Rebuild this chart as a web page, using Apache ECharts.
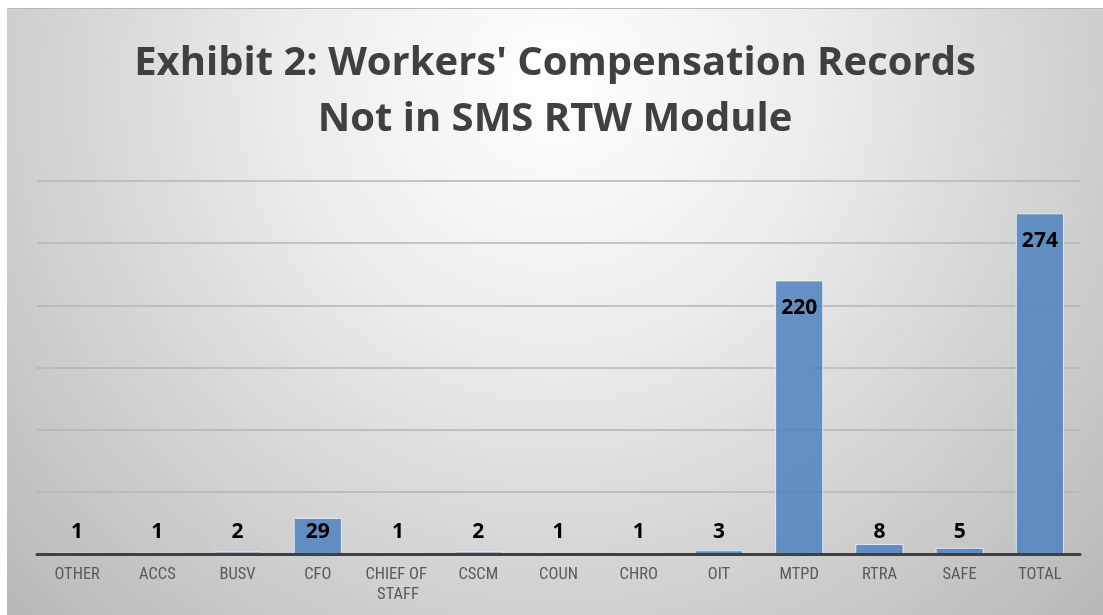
<!DOCTYPE html>
<html>
<head>
<meta charset="utf-8">
<script src="https://cdn.jsdelivr.net/npm/echarts@6/dist/echarts.min.js"></script>
<style>
  html, body { margin: 0; padding: 0; background: #ffffff; width: 1103px; height: 615px; overflow: hidden; }
  #chart { position: absolute; left: 7px; top: 8px; width: 1096px; height: 607px; border-top: 1px solid #b8b8b8; box-sizing: border-box; }
</style>
</head>
<body>
<div id="chart"></div>
<script>
const titleLines = ["Exhibit 2: Workers' Compensation Records", "Not in SMS RTW Module"];
const categories = ["OTHER", "ACCS", "BUSV", "CFO", "CHIEF OF STAFF", "CSCM", "COUN", "CHRO", "OIT", "MTPD", "RTRA", "SAFE", "TOTAL"];
const values = [1, 1, 2, 29, 1, 2, 1, 1, 3, 220, 8, 5, 274];
const yMin = 0, yMax = 300, yInterval = 50;

const chart = echarts.init(document.getElementById('chart'), null, { renderer: 'canvas' });

const seriesData = values.map(v => ({
  value: v,
  label: v < 50 ? { position: 'insideBottom', distance: 11 } : { position: 'insideTop', distance: 17 }
}));

chart.setOption({
  animation: false,
  graphic: [{
    type: 'rect', z: -100, silent: true,
    shape: { x: 0, y: 0, width: 1096, height: 607 },
    style: {
      fill: {
        type: 'radial', x: 0.5, y: 0.12, r: 1.25,
        colorStops: [
          { offset: 0, color: '#ffffff' },
          { offset: 0.35, color: '#ececec' },
          { offset: 1, color: '#b8b8b8' }
        ]
      }
    }
  }],
  title: {
    text: titleLines.join('\n'),
    left: 'center',
    top: 22,
    textStyle: {
      fontFamily: 'Open Sans',
      fontWeight: 'bold',
      fontSize: 40,
      lineHeight: 56,
      color: '#404040'
    }
  },
  grid: { left: 30, right: 23, top: 172, bottom: 61, containLabel: false },
  xAxis: {
    type: 'category',
    z: 5,
    data: categories,
    axisLine: { show: true, lineStyle: { color: '#404040', width: 3 } },
    axisTick: { show: false },
    axisLabel: {
      interval: 0,
      color: '#595959',
      fontFamily: 'Liberation Sans Narrow, Roboto Condensed, Roboto',
      fontSize: 16.5,
      margin: 11,
      lineHeight: 20,
      width: 74,
      overflow: 'break'
    }
  },
  yAxis: {
    type: 'value',
    min: yMin, max: yMax, interval: yInterval,
    axisLabel: { show: false },
    axisLine: { show: false },
    axisTick: { show: false },
    splitLine: { show: true, lineStyle: { color: '#b4b4b4', width: 1.5 } }
  },
  series: [{
    type: 'bar',
    data: seriesData,
    barCategoryGap: '40%',
    itemStyle: {
      color: 'rgba(79,129,189,0.85)',
      borderColor: 'rgba(235,242,250,0.85)',
      borderWidth: 1
    },
    label: {
      show: true,
      color: '#000000',
      fontFamily: 'Open Sans',
      fontWeight: 'bold',
      fontSize: 21
    }
  }]
});
</script>
</body>
</html>
